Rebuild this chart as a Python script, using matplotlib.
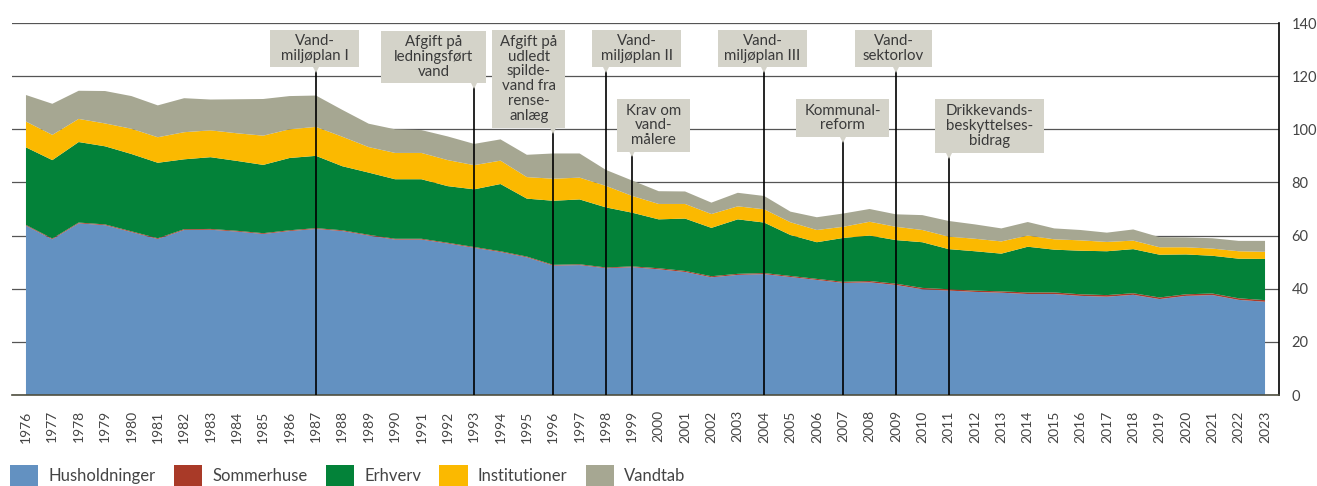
import matplotlib
matplotlib.use("Agg")
import matplotlib.pyplot as plt
from matplotlib.patches import Patch, Rectangle

plt.rcParams["font.family"] = ["Lato", "DejaVu Sans"]

# Data
years = list(range(1976, 2024))

husholdninger = [63.7, 58.6, 64.6, 63.9, 61.3, 58.7, 62.1, 62.2, 61.5, 60.6, 61.7, 62.5,
                 61.7, 60.0, 58.5, 58.5, 57.0, 55.4, 53.8, 51.8, 48.7, 48.9, 47.7, 48.1,
                 47.3, 46.3, 44.3, 45.2, 45.5, 44.4, 43.3, 42.2, 42.4, 41.4, 39.8, 39.3,
                 38.8, 38.5, 38.0, 38.0, 37.3, 37.0, 37.7, 36.1, 37.3, 37.6, 35.8, 35.1]
sommerhuse = [0.3, 0.3, 0.3, 0.3, 0.3, 0.3, 0.3, 0.3, 0.3, 0.3, 0.3, 0.3,
              0.3, 0.3, 0.3, 0.3, 0.3, 0.3, 0.3, 0.3, 0.3, 0.3, 0.3, 0.3,
              0.4, 0.4, 0.4, 0.4, 0.4, 0.4, 0.4, 0.4, 0.5, 0.5, 0.5, 0.5,
              0.5, 0.5, 0.6, 0.6, 0.6, 0.6, 0.6, 0.6, 0.6, 0.6, 0.6, 0.6]
erhverv = [29.2, 29.5, 30.3, 29.4, 29.1, 28.4, 26.3, 27.0, 26.3, 25.7, 27.2, 27.2,
           24.1, 23.4, 22.4, 22.4, 21.3, 21.7, 25.3, 21.8, 24.1, 24.4, 22.6, 20.2,
           18.4, 19.7, 18.2, 20.5, 19.0, 15.4, 13.8, 16.5, 17.1, 16.4, 17.2, 15.1,
           14.8, 14.2, 17.2, 16.1, 16.4, 16.5, 16.6, 16.1, 15.0, 14.2, 14.9, 15.5]
institutioner = [9.7, 9.5, 8.7, 8.6, 9.5, 9.6, 10.2, 10.1, 10.4, 11.0, 10.8, 10.9,
                 11.1, 9.6, 9.9, 9.9, 9.8, 9.1, 8.8, 8.1, 8.3, 8.2, 8.1, 6.3,
                 5.8, 5.5, 5.2, 4.9, 5.0, 4.8, 4.6, 4.2, 5.2, 5.0, 4.6, 4.7,
                 4.7, 4.6, 4.2, 3.9, 3.9, 3.5, 3.2, 2.8, 2.7, 2.7, 2.8, 2.7]
vandtab = [10.0, 11.7, 10.6, 12.2, 12.3, 12.0, 12.8, 11.6, 12.8, 13.8, 12.5, 11.8,
           10.1, 8.8, 8.9, 8.6, 8.9, 8.0, 8.0, 8.4, 9.5, 9.1, 6.0, 5.8,
           4.8, 4.7, 4.3, 5.1, 5.0, 4.0, 4.8, 5.0, 4.8, 4.7, 5.6, 5.9,
           5.4, 4.9, 5.1, 4.1, 3.9, 3.5, 4.2, 3.8, 3.7, 3.9, 3.9, 4.1]

series_names = ["Husholdninger", "Sommerhuse", "Erhverv", "Institutioner", "Vandtab"]
colors = ["#6391C1", "#A93A28", "#038239", "#FBB900", "#A6A792"]

# Events: year of the line, label, box centre (year), box width (years), box top/bottom
event_years = [1987, 1993, 1996, 1998, 1999, 2004, 2007, 2009, 2011]
event_labels = ["Vand-\nmiljøplan I",
                "Afgift på\nledningsført\nvand",
                "Afgift på\nudledt\nspilde-\nvand fra\nrense-\nanlæg",
                "Vand-\nmiljøplan II",
                "Krav om\nvand-\nmålere",
                "Vand-\nmiljøplan III",
                "Kommunal-\nreform",
                "Vand-\nsektorlov",
                "Drikkevands-\nbeskyttelses-\nbidrag"]
box_center = [1986.95, 1991.46, 1995.07, 1999.16, 1999.80, 2003.94, 2006.98, 2008.91, 2012.55]
box_width = [3.37, 3.98, 2.77, 3.38, 2.77, 3.38, 3.53, 2.92, 4.14]
box_top = [137.4, 137.0, 137.4, 137.4, 111.4, 137.4, 111.4, 137.4, 111.4]
box_bottom = [123.4, 117.4, 100.5, 123.4, 91.5, 123.4, 97.1, 123.4, 91.1]
box_color = "#D4D3C9"

fig = plt.figure(figsize=(13.17, 4.86), dpi=100)
ax = fig.add_axes([12 / 1317, 1 - 395 / 486, (1279 - 12) / 1317, (395 - 23) / 486])

ax.stackplot(years, husholdninger, sommerhuse, erhverv, institutioner, vandtab,
             colors=colors, linewidth=0, zorder=2)

# event lines, boxes and labels
for yr, lab, cx, w, top, bot in zip(event_years, event_labels, box_center,
                                    box_width, box_top, box_bottom):
    ax.plot([yr, yr], [0, bot - 1.5], color="black", lw=1.2, zorder=3)
    ax.add_patch(Rectangle((cx - w / 2, bot), w, top - bot, facecolor=box_color,
                           edgecolor="none", zorder=4, clip_on=False))
    ax.plot(yr, bot - 0.6, marker="v", markersize=6, color=box_color,
            markeredgewidth=0, zorder=4, clip_on=False)
    ax.text(cx, (top + bot) / 2, lab, ha="center", va="center", ma="center",
            fontsize=10.8, color="#3a3a3a", linespacing=1.08, zorder=5)

ax.set_xlim(1975.47, 2023.53)
ax.set_ylim(0, 140)
ax.set_xticks(years)
ax.set_xticklabels([str(y) for y in years], rotation=90, fontsize=10, color="#444444")
ax.tick_params(axis="x", length=0, pad=11)
ax.yaxis.tick_right()
ax.set_yticks(range(0, 141, 20))
ax.tick_params(axis="y", length=0, pad=9, labelsize=10.5, labelcolor="#444444")
ax.grid(axis="y", color="#555555", lw=0.9, zorder=0)
ax.set_axisbelow(True)
for side in ["left", "top"]:
    ax.spines[side].set_visible(False)
ax.spines["right"].set_color("black")
ax.spines["right"].set_linewidth(1.2)
ax.spines["bottom"].set_color("#4f4f3f")
ax.spines["bottom"].set_linewidth(1.2)

handles = [Patch(facecolor=c, edgecolor="none") for c in colors]
fig.legend(handles, series_names, loc="lower left", bbox_to_anchor=(10 / 1317, 0.0),
           ncol=5, frameon=False, fontsize=12, handlelength=1.7, handleheight=1.6,
           handletextpad=0.6, columnspacing=1.1, borderaxespad=0.0, borderpad=0.0,
           labelcolor="#444444")

fig.savefig("out.png", dpi=100)
